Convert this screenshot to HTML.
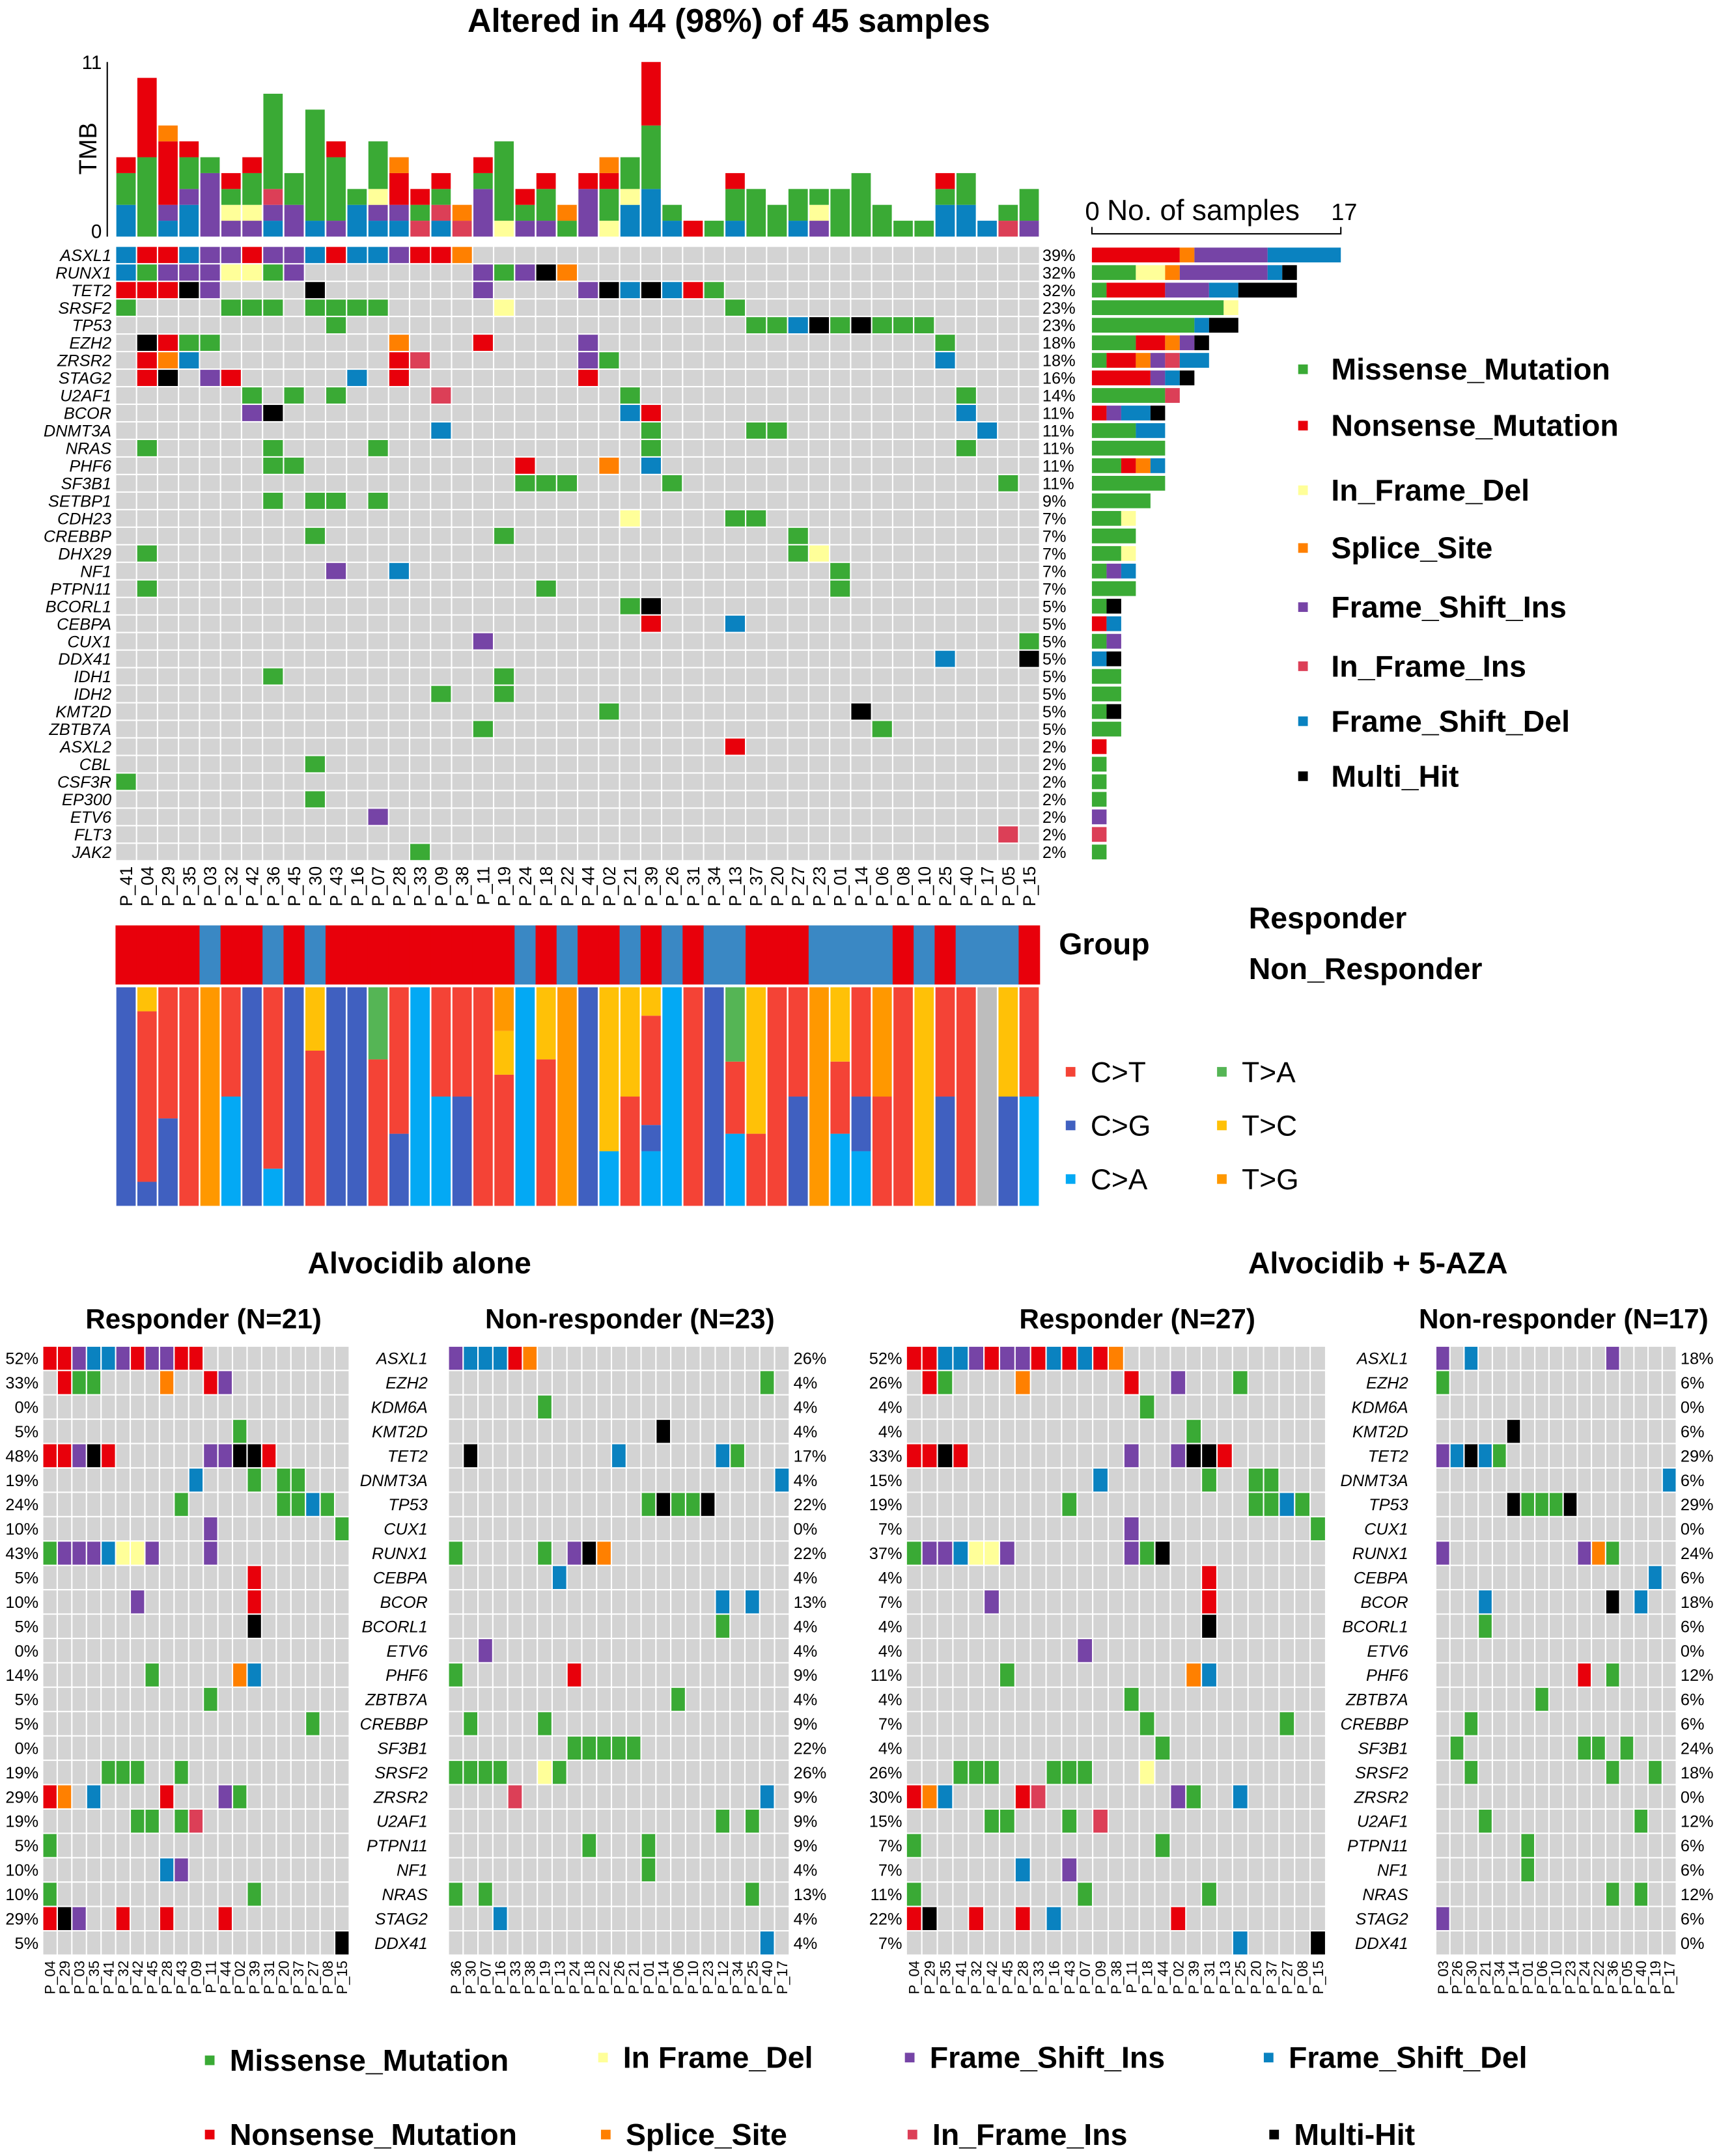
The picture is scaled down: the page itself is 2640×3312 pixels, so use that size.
<!DOCTYPE html>
<html><head><meta charset="utf-8">
<style>
html,body{margin:0;padding:0;background:#fff;}
svg{display:block;font-family:"Liberation Sans",Arial,sans-serif;}
</style></head>
<body>
<svg id="fig" width="2640" height="3312" viewBox="0 0 1250 1568" xmlns="http://www.w3.org/2000/svg">
<rect x="0" y="0" width="1250" height="1568" fill="#fff"/>
<text x="530" y="23" font-size="24" font-weight="bold" text-anchor="middle">Altered in 44 (98%) of 45 samples</text>
<text x="70" y="108" font-size="18" text-anchor="middle" transform="rotate(-90 70 108)">TMB</text>
<text x="74" y="50" font-size="14" text-anchor="end">11</text>
<text x="74" y="173" font-size="14" text-anchor="end">0</text>
<line x1="78" y1="45" x2="78" y2="172" stroke="#000" stroke-width="1"/>
<text x="789" y="160" font-size="19">0</text>
<text x="805" y="160" font-size="21">No. of samples</text>
<text x="968" y="160" font-size="17">17</text>
<path d="M794 165 V170 H975 V165" fill="none" stroke="#000" stroke-width="1"/>
<text x="770" y="694" font-size="22" font-weight="bold">Group</text>
<text x="908" y="675" font-size="22" font-weight="bold">Responder</text>
<text x="908" y="712" font-size="22" font-weight="bold">Non_Responder</text>
<text x="305" y="926" font-size="22" font-weight="bold" text-anchor="middle">Alvocidib alone</text>
<text x="1002" y="926" font-size="22" font-weight="bold" text-anchor="middle">Alvocidib +  5-AZA</text>
<text x="148" y="966" font-size="20" font-weight="bold" text-anchor="middle">Responder (N=21)</text>
<text x="458" y="966" font-size="20" font-weight="bold" text-anchor="middle">Non-responder (N=23)</text>
<text x="827" y="966" font-size="20" font-weight="bold" text-anchor="middle">Responder (N=27)</text>
<text x="1137" y="966" font-size="20" font-weight="bold" text-anchor="middle">Non-responder (N=17)</text>
<g id="dyn"></g>
</svg>
<script>
const colMap={G:'#3aaa35',R:'#e8000b',Y:'#ffff99',O:'#ff8000',P:'#7644a6',K:'#dc3f57',B:'#0a82c0',X:'#000000'};
const typeOrder=['G','R','Y','O','P','K','B','X'];
const topGenes=["ASXL1","RUNX1","TET2","SRSF2","TP53","EZH2","ZRSR2","STAG2","U2AF1","BCOR","DNMT3A","NRAS","PHF6","SF3B1","SETBP1","CDH23","CREBBP","DHX29","NF1","PTPN11","BCORL1","CEBPA","CUX1","DDX41","IDH1","IDH2","KMT2D","ZBTB7A","ASXL2","CBL","CSF3R","EP300","ETV6","FLT3","JAK2"];
const topPct=["39%","32%","32%","23%","23%","18%","18%","16%","14%","11%","11%","11%","11%","11%","9%","7%","7%","7%","7%","7%","5%","5%","5%","5%","5%","5%","5%","5%","2%","2%","2%","2%","2%","2%","2%"];
const topMuts=["0B 1R 2R 3B 4P 5P 6R 7P 8P 9B 10R 11B 12B 13P 14R 15R 16O","0B 1G 2P 3P 4P 5Y 6Y 7G 8P 17P 18G 19P 20X 21O","0R 1R 2R 3X 4P 9X 17P 22P 23X 24B 25X 26B 27R 28G","0G 5G 6G 7G 9G 10G 11G 12G 18Y 29G","10G 30G 31G 32B 33X 34G 35X 36G 37G 38G","1X 2R 3G 4G 13O 17R 22P 39G","1R 2O 3B 13R 14K 22P 23G 39B","1R 2X 4P 5R 11B 13R 22R","6G 8G 10G 15K 24G 40G","6P 7X 24B 25R 40B","15B 25G 30G 31G 41B","1G 7G 12G 25G 40G","7G 8G 19R 23O 25B","19G 20G 21G 26G 42G","7G 9G 10G 12G","24Y 29G 30G","9G 18G 32G","1G 32G 33Y","10P 13B 34G","1G 20G 34G","24G 25X","25R 29B","17P 43G","39B 43X","7G 18G","15G 18G","23G 35X","17G 36G","29R","9G","0G","9G","12P","42K","14G"];
const topSamples=["P_41","P_04","P_29","P_35","P_03","P_32","P_42","P_36","P_45","P_30","P_43","P_16","P_07","P_28","P_33","P_09","P_38","P_11","P_19","P_24","P_18","P_22","P_44","P_02","P_21","P_39","P_26","P_31","P_34","P_13","P_37","P_20","P_27","P_23","P_01","P_14","P_06","P_08","P_10","P_25","P_40","P_17","P_05","P_15"];
const tmbStacks=["B2G2R1","G5R5","B1P1R4O1","B2P1G2R1","P4G1","P1Y1G1R1","P1Y1G2R1","B1P1K1G6","P2G2","B1G7","P1G4R1","B2G1","B1P1Y1G3","B1P1R2O1","K1G1R1","B1K1G1R1","K1O1","P3G1R1","Y1G5","P1G1R1","P1G2R1","G1O1","P3R1","Y1G2R1O1","B2Y1G2","B3G4R4","B1G1","R1","G1","B1G2R1","G3","G2","B1G2","P1Y1G1","G3","G4","G2","G1","G1","B2G1R1","B2G2","B1","K1G1","P1G2"];
const groupVals="RRRRBRRBRBRRRRRRRRRBRBRRBRBRBBRRRBBBBRBRBBBR".split('');
const specCA=[0,0,0,0,0,.5,0,.17,0,0,0,0,0,0,1,.5,0,0,0,1,0,0,0,.25,0,.25,1,0,0,.33,0,0,0,0,.33,.25,0,0,0,0,0,0,0,.5];
const specCG=[1,.11,.4,0,0,0,1,0,1,0,1,1,0,.33,0,0,.5,0,0,0,0,0,1,0,0,.12,0,0,1,0,0,0,.5,0,0,.25,0,0,0,.5,0,0,.5,0];
const specCT=[0,.78,.6,1,0,.5,0,.83,0,.71,0,0,.67,.67,0,.5,.5,1,.6,0,.67,0,0,0,.5,.5,0,1,0,.33,.33,1,.5,0,.33,.5,.5,1,0,.5,1,0,0,.5];
const specTA=[0,0,0,0,0,0,0,0,0,0,0,0,.33,0,0,0,0,0,0,0,0,0,0,0,0,0,0,0,0,.34,0,0,0,0,0,0,0,0,0,0,0,0,0,0];
const specTC=[0,.11,0,0,0,0,0,0,0,.29,0,0,0,0,0,0,0,0,.2,0,.33,0,0,.75,.5,.13,0,0,0,0,.67,0,0,0,.34,0,0,0,1,0,0,0,.5,0];
const specTG=[0,0,0,0,1,0,0,0,0,0,0,0,0,0,0,0,0,0,.2,0,0,1,0,0,0,0,0,0,0,0,0,0,0,1,0,0,.5,0,0,0,0,0,0,0];
const botGenes=["ASXL1","EZH2","KDM6A","KMT2D","TET2","DNMT3A","TP53","CUX1","RUNX1","CEBPA","BCOR","BCORL1","ETV6","PHF6","ZBTB7A","CREBBP","SF3B1","SRSF2","ZRSR2","U2AF1","PTPN11","NF1","NRAS","STAG2","DDX41"];
const p1Muts=["0R 1R 2P 3B 4B 5P 6R 7P 8P 9R 10R","0X 1R 2G 3G 8O 11R 12P","","13G","0R 1R 2P 3X 4R 11P 12P 13X 14X 15R","10B 14G 16G 17G","9G 16G 17G 18B 19G","11P 20G","0G 1P 2P 3P 4B 5Y 6Y 7P 11P","14R","6P 14R","14X","","7G 13O 14B","11G","18G","","4G 5G 6G 9G","0R 1O 3B 8R 12P 13G","6G 7G 9G 10K","0G","8B 9P","0G 14G","0R 1X 2P 5R 8R 12R","20X"];
const p1Pct=["52%","33%","0%","5%","48%","19%","24%","10%","43%","5%","10%","5%","0%","14%","5%","5%","0%","19%","29%","19%","5%","10%","10%","29%","5%"];
const p1Samples=["P_04","P_29","P_03","P_35","P_41","P_32","P_42","P_45","P_28","P_43","P_09","P_11","P_44","P_02","P_39","P_31","P_20","P_37","P_27","P_08","P_15"];
const p2Muts=["0P 1B 2B 3B 4R 5O","21G","6G","14X","1X 11B 18B 19G","22B","13G 14X 15G 16G 17X","","0G 6G 8P 9X 10O","7B","0X 18B 20B","18G","2P","0G 8R","15G","1G 6G","8G 9G 10G 11G 12G","0G 1G 2G 3G 6Y 7G","4K 21B","18G 20G","9G 13G","13G","0G 2G 20G","3B","21B"];
const p2Pct=["26%","4%","4%","4%","17%","4%","22%","0%","22%","4%","13%","4%","4%","9%","4%","9%","22%","26%","9%","9%","9%","4%","13%","4%","4%"];
const p2Samples=["P_36","P_30","P_07","P_16","P_33","P_38","P_19","P_13","P_24","P_18","P_22","P_26","P_21","P_01","P_14","P_06","P_10","P_23","P_12","P_34","P_25","P_40","P_17"];
const p3Muts=["0R 1R 2B 3B 4P 5R 6P 7P 8R 9B 10R 11B 12R 13O","0X 1R 2G 7O 14R 17P 21G","15G","18G","0R 1R 2X 3R 14P 17P 18X 19X 20R","12B 19G 22G 23G","10G 22G 23G 24B 25G","14P 26G","0G 1P 2P 3B 4Y 5Y 6P 14P 15G 16X","19R","5P 19R","19X","11P","6G 18O 19B","14G","15G 24G","16G","3G 4G 5G 9G 10G 11G 15Y","0R 1O 2B 7R 8K 17P 18G 21B","5G 6G 10G 12K","0G 16G","7B 10P","0G 11G 19G","0R 1X 4R 7R 9B 17R","21B 26X"];
const p3Pct=["52%","26%","4%","4%","33%","15%","19%","7%","37%","4%","7%","4%","4%","11%","4%","7%","4%","26%","30%","15%","7%","7%","11%","22%","7%"];
const p3Samples=["P_04","P_29","P_35","P_41","P_32","P_42","P_45","P_28","P_33","P_16","P_43","P_07","P_09","P_38","P_11","P_18","P_44","P_02","P_39","P_31","P_13","P_25","P_20","P_37","P_27","P_08","P_15"];
const p4Muts=["0P 2B 12P","0G","","5X","0P 1B 2X 3B 4G","16B","5X 6G 7G 8G 9X","","0P 10P 11O 12G","15B","3B 12X 14B","3G","","10R 12G","7G","2G","1G 10G 11G 13G","2G 12G 15G","","3G 14G","6G","6G","12G 14G","0P",""];
const p4Pct=["18%","6%","0%","6%","29%","6%","29%","0%","24%","6%","18%","6%","0%","12%","6%","6%","24%","18%","0%","12%","6%","6%","12%","6%","0%"];
const p4Samples=["P_03","P_26","P_30","P_21","P_34","P_14","P_01","P_06","P_10","P_23","P_24","P_22","P_36","P_05","P_40","P_19","P_17"];

const NS='http://www.w3.org/2000/svg';
const root=document.getElementById('dyn');
function mk(tag,attrs,parent){const e=document.createElementNS(NS,tag);for(const k in attrs)e.setAttribute(k,attrs[k]);(parent||root).appendChild(e);return e;}
function parseMuts(s){return s.trim()?s.trim().split(/\s+/).map(t=>({c:parseInt(t),t:t.slice(-1)})):[];}
function parseStack(s){const out=[];const re=/([A-Z])(\d+)/g;let m;while((m=re.exec(s)))out.push({t:m[1],n:+m[2]});return out;}

function drawOnco(name,x0,y0,w,h,ncol,genes,muts){
  const g=mk('g',{});
  
  
  const cw=w/ncol,rh=h/genes.length;
  genes.forEach((gn,r)=>{
    const mm={};parseMuts(muts[r]).forEach(m=>mm[m.c]=m.t);
    for(let c=0;c<ncol;c++){
      const t=mm[c];
      const el=mk('rect',{x:x0+c*cw+0.5,y:y0+r*rh+0.5,width:cw-1,height:rh-1,fill:t?colMap[t]:'#d3d3d3'},g);
      
      
    }
  });
  return {cw,rh};
}
function rowLabels(x,y0,rh,arr,anchor,size,italic,nm){
  arr.forEach((s,i)=>{
    const t=mk('text',{x:x,y:y0+i*rh+rh/2+size*0.36,'font-size':size,'text-anchor':anchor,'font-style':italic?'italic':'normal'});
    t.textContent=s;
    
    
  });
}
function colLabels(x0,cw,y,arr,size,nm){
  arr.forEach((s,i)=>{
    const cx=x0+i*cw+cw/2+size*0.36;
    const t=mk('text',{x:cx,y:y,'font-size':size,'text-anchor':'end',transform:`rotate(-90 ${cx} ${y})`});
    t.textContent=s;
    
    
  });
}

// top oncoplot
const GX=84,GW=672,GY=179,GH=447,NC=44;
const dims=drawOnco('main-oncoplot-grid',GX,GY,GW,GH,NC,topGenes,topMuts);
rowLabels(81,GY,dims.rh,topGenes,'end',12,true,'gene-label');
rowLabels(758,GY,dims.rh,topPct,'start',12,false,'gene-percent');
colLabels(GX,dims.cw,630,topSamples,12.5,'sample-label');

// TMB bars
const tmbY=v=>172-v*(127/11);
tmbStacks.forEach((s,c)=>{
  let acc=0;
  parseStack(s).forEach(seg=>{
    const y1=tmbY(acc),y2=tmbY(acc+seg.n);
    const el=mk('rect',{x:GX+c*dims.cw+0.6,y:y2,width:dims.cw-1.2,height:y1-y2,fill:colMap[seg.t]});
    
    
    acc+=seg.n;
  });
});

// right sample-count bars
const cntX=v=>794+v*(181/17);
topGenes.forEach((gn,r)=>{
  const counts={};parseMuts(topMuts[r]).forEach(m=>counts[m.t]=(counts[m.t]||0)+1);
  let acc=0;
  typeOrder.forEach(t=>{
    if(!counts[t])return;
    const el=mk('rect',{x:cntX(acc),y:GY+r*dims.rh+1,width:cntX(acc+counts[t])-cntX(acc),height:dims.rh-2,fill:colMap[t]});
    
    
    acc+=counts[t];
  });
});

// group strip
groupVals.forEach((v,c)=>{
  const el=mk('rect',{x:GX+c*dims.cw,y:673,width:dims.cw+0.3,height:43,fill:v==='R'?'#e8000b':'#3a88c4'});
  
  
});

// spectrum stacked bars
const specSeries=[[specCA,'#03a9f4'],[specCG,'#4060c0'],[specCT,'#f44336'],[specTA,'#55b555'],[specTC,'#ffc107'],[specTG,'#ff9800']];
const spY=f=>877-f*159;
for(let c=0;c<NC;c++){
  let acc=0,tot=0;specSeries.forEach(s=>tot+=s[0][c]);
  if(tot===0){
    const el=mk('rect',{x:GX+c*dims.cw+0.6,y:718,width:dims.cw-1.2,height:159,fill:'#bdbdbd'});
    
    
    continue;
  }
  specSeries.forEach(s=>{
    const v=s[0][c]/tot;if(!v)return;
    const el=mk('rect',{x:GX+c*dims.cw+0.6,y:spY(acc+v),width:dims.cw-1.2,height:spY(acc)-spY(acc+v),fill:s[1]});
    
    
    acc+=v;
  });
}

// spectrum legend
const specLeg=[['C>T','#f44336',775,780],['C>G','#4060c0',775,819],['C>A','#03a9f4',775,858],['T>A','#55b555',885,780],['T>C','#ffc107',885,819],['T>G','#ff9800',885,858]];
specLeg.forEach(l=>{
  const r=mk('rect',{x:l[2],y:l[3]-4,width:7,height:7,fill:l[1]});
  
  
  const t=mk('text',{x:l[2]+18,y:l[3]+7,'font-size':21});
  t.textContent=l[0];
  
  
});

// main mutation legend
const mainLeg=[['Missense_Mutation','G',268],['Nonsense_Mutation','R',309],['In_Frame_Del','Y',356],['Splice_Site','O',398],['Frame_Shift_Ins','P',441],['In_Frame_Ins','K',484],['Frame_Shift_Del','B',524],['Multi_Hit','X',564]];
mainLeg.forEach(l=>{
  const r=mk('rect',{x:944,y:l[2]-3,width:7,height:7,fill:colMap[l[1]]});
  
  
  const t=mk('text',{x:968,y:l[2]+8,'font-size':22,'font-weight':'bold'});
  t.textContent=l[0];
  
  
});

// bottom panels
const BY=979,BH=443;
const panels=[
  {n:'panel1-grid',x:31,w:223,muts:p1Muts,s:p1Samples,pct:p1Pct,px:28,pa:'end',gx:null},
  {n:'panel2-grid',x:326,w:248,muts:p2Muts,s:p2Samples,pct:p2Pct,px:577,pa:'start',gx:311},
  {n:'panel3-grid',x:659,w:305,muts:p3Muts,s:p3Samples,pct:p3Pct,px:656,pa:'end',gx:null},
  {n:'panel4-grid',x:1044,w:175,muts:p4Muts,s:p4Samples,pct:p4Pct,px:1222,pa:'start',gx:1024}
];
panels.forEach(p=>{
  const d=drawOnco(p.n,p.x,BY,p.w,BH,p.s.length,botGenes,p.muts);
  rowLabels(p.px,BY,d.rh,p.pct,p.pa,12,false,'panel-gene-percent');
  if(p.gx)rowLabels(p.gx,BY,d.rh,botGenes,'end',12,true,'panel-gene-label');
  colLabels(p.x,d.cw,1426,p.s,10.5,'panel-sample-label');
});

// bottom legend
const botLeg=[['Missense_Mutation','G',149,1498],['In Frame_Del','Y',435,1496],['Frame_Shift_Ins','P',658,1496],['Frame_Shift_Del','B',919,1496],['Nonsense_Mutation','R',149,1552],['Splice_Site','O',437,1552],['In_Frame_Ins','K',660,1552],['Multi-Hit','X',923,1552]];
botLeg.forEach(l=>{
  const r=mk('rect',{x:l[2],y:l[3]-3,width:7,height:7,fill:colMap[l[1]]});
  
  
  const t=mk('text',{x:l[2]+18,y:l[3]+8,'font-size':22,'font-weight':'bold'});
  t.textContent=l[0];
  
  
});
</script>
</body></html>
